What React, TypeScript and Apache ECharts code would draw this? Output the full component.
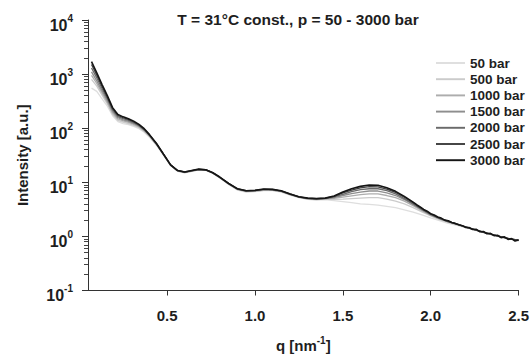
import React, { useEffect, useRef } from "react";
import * as echarts from "echarts";

// q values [nm^-1], shared by all curves
const Q = [
  0.07, 0.1, 0.13, 0.16, 0.19, 0.22, 0.25, 0.28, 0.31, 0.34, 0.37, 0.4, 0.44, 0.48,
  0.52, 0.56, 0.6, 0.64, 0.68, 0.72, 0.76, 0.8,
  0.85, 0.9, 0.95, 1.0, 1.05, 1.1, 1.15, 1.2, 1.25, 1.3,
  1.35, 1.4, 1.45, 1.5, 1.55, 1.6, 1.65, 1.7, 1.75, 1.8,
  1.85, 1.9, 1.95, 2.0, 2.05, 2.1, 2.15, 2.2, 2.25, 2.3,
  2.35, 2.4, 2.45, 2.5,
];

const I_50 = [
  550, 480, 350, 255, 170, 132, 122, 116, 108, 98, 84, 68, 48, 31.5,
  20.3, 16.0, 15.0, 15.9, 16.9, 16.6, 14.6, 12.0,
  9.1, 7.2, 6.6, 6.7, 7.0, 7.0, 6.6, 5.8, 5.2, 4.85,
  4.7, 4.8, 4.6, 4.4, 4.2, 4.0, 3.9, 3.8, 3.6, 3.4,
  3.1, 2.8, 2.5, 2.2, 1.95, 1.75, 1.6, 1.45, 1.31, 1.18,
  1.07, 0.97, 0.9, 0.85,
];
const I_500 = [
  800, 600, 410, 280, 180, 140, 129, 122, 113, 102, 87, 70, 49, 32,
  20.5, 16.1, 15.1, 16.0, 17.0, 16.7, 14.7, 12.1,
  9.2, 7.3, 6.7, 6.8, 7.1, 7.1, 6.7, 5.9, 5.25, 4.9,
  4.8, 4.9, 4.85, 4.9, 5.0, 5.1, 5.2, 5.2, 4.9, 4.5,
  4.0, 3.4, 2.85, 2.4, 2.05, 1.82, 1.64, 1.47, 1.32, 1.19,
  1.07, 0.98, 0.9, 0.85,
];
const I_1000 = [
  950, 670, 450, 300, 192, 148, 136, 128, 118, 106, 90, 72, 50, 32.3,
  20.6, 16.2, 15.2, 16.1, 17.1, 16.8, 14.8, 12.2,
  9.3, 7.4, 6.8, 6.9, 7.2, 7.2, 6.8, 5.9, 5.3, 4.95,
  4.85, 4.95, 5.05, 5.3, 5.6, 5.9, 6.1, 6.1, 5.7, 5.2,
  4.5, 3.7, 3.0, 2.45, 2.1, 1.85, 1.66, 1.48, 1.33, 1.19,
  1.08, 0.98, 0.9, 0.85,
];
const I_1500 = [
  1100, 750, 490, 325, 205, 156, 143, 134, 122, 109, 92, 73, 50.5, 32.5,
  20.7, 16.3, 15.3, 16.2, 17.2, 16.9, 14.9, 12.3,
  9.4, 7.5, 6.9, 7.0, 7.3, 7.2, 6.8, 6.0, 5.3, 5.0,
  4.9, 5.0, 5.2, 5.7, 6.2, 6.6, 6.9, 6.9, 6.4, 5.7,
  4.8, 3.9, 3.1, 2.5, 2.12, 1.86, 1.67, 1.49, 1.33, 1.19,
  1.08, 0.98, 0.9, 0.85,
];
const I_2000 = [
  1300, 850, 540, 350, 218, 164, 150, 140, 127, 112, 94, 74, 51, 32.8,
  20.8, 16.4, 15.4, 16.3, 17.3, 17.0, 15.0, 12.3,
  9.5, 7.5, 6.9, 7.0, 7.4, 7.3, 6.9, 6.0, 5.35, 5.05,
  4.95, 5.05, 5.35, 6.0, 6.7, 7.3, 7.6, 7.6, 7.0, 6.1,
  5.0, 4.0, 3.15, 2.55, 2.15, 1.88, 1.68, 1.49, 1.34, 1.2,
  1.08, 0.99, 0.9, 0.84,
];
const I_2500 = [
  1500, 950, 590, 375, 230, 172, 156, 145, 131, 115, 96, 75, 51.5, 33,
  21.0, 16.6, 15.5, 16.4, 17.4, 17.1, 15.1, 12.4,
  9.6, 7.6, 7.0, 7.1, 7.4, 7.4, 6.9, 6.1, 5.4, 5.1,
  5.0, 5.1, 5.5, 6.35, 7.2, 7.9, 8.3, 8.2, 7.5, 6.5,
  5.3, 4.2, 3.25, 2.6, 2.18, 1.9, 1.68, 1.5, 1.33, 1.2,
  1.09, 0.98, 0.9, 0.85,
];
const I_3000 = [
  1700, 1050, 640, 400, 240, 180, 162, 150, 135, 118, 98, 76, 52, 33,
  21.0, 16.5, 15.5, 16.5, 17.5, 17.0, 15.0, 12.5,
  9.5, 7.6, 7.0, 7.1, 7.5, 7.4, 7.0, 6.1, 5.4, 5.1,
  5.0, 5.1, 5.6, 6.6, 7.6, 8.4, 8.9, 8.8, 7.9, 6.8,
  5.5, 4.3, 3.3, 2.65, 2.2, 1.9, 1.7, 1.48, 1.35, 1.19,
  1.1, 0.97, 0.91, 0.84,
];

// denser, noisy high-q tail of the 3000 bar curve (drawn on top of the others)
const Q_TAIL = [
  1.9, 1.92, 1.94, 1.96, 1.98, 2.0, 2.02, 2.04, 2.06, 2.08, 2.1,
  2.12, 2.14, 2.16, 2.18, 2.2, 2.22, 2.24, 2.26, 2.28, 2.3,
  2.32, 2.34, 2.36, 2.38, 2.4, 2.42, 2.44, 2.46, 2.48, 2.5,
];
const I_3000_TAIL = [
  4.3, 3.85, 3.5, 3.15, 2.92, 2.62, 2.48, 2.28, 2.18, 2.0, 1.94,
  1.8, 1.74, 1.64, 1.58, 1.46, 1.45, 1.34, 1.35, 1.22, 1.23,
  1.12, 1.14, 1.03, 1.05, 0.95, 0.98, 0.88, 0.91, 0.82, 0.86,
];

const SERIES_NAMES = ["50 bar", "500 bar", "1000 bar", "1500 bar", "2000 bar", "2500 bar", "3000 bar"];
const SERIES_VALUES = [I_50, I_500, I_1000, I_1500, I_2000, I_2500, I_3000];
const SERIES_COLORS = ["#dedede", "#cbcbcb", "#adadad", "#8e8e8e", "#6a6a6a", "#404040", "#151515"];

const X_TICKS = [0.5, 1.0, 1.5, 2.0, 2.5];
const Y_MINOR = [
  0.2, 0.3, 0.4, 0.5, 0.6, 0.7, 0.8, 0.9,
  2, 3, 4, 5, 6, 7, 8, 9,
  20, 30, 40, 50, 60, 70, 80, 90,
  200, 300, 400, 500, 600, 700, 800, 900,
  2000, 3000, 4000, 5000, 6000, 7000, 8000, 9000,
];

const TITLE = "T = 31°C const., p = 50 - 3000 bar";
const FONT = "'Liberation Sans', Arial, Helvetica, sans-serif";
const INK = "#1e1e1e";

export default function App() {
  const ref = useRef<HTMLDivElement>(null);

  useEffect(() => {
    if (!ref.current) return;
    const chart = echarts.init(ref.current, null, { renderer: "svg" });

    const series = SERIES_VALUES.map((vals, i) => {
      let data = vals.map((v, j) => [Q[j], v]);
      if (i === 6) {
        data = data.filter((d) => d[0] < Q_TAIL[0]).concat(Q_TAIL.map((q, j) => [q, I_3000_TAIL[j]]));
      }
      return {
        type: "line",
        name: SERIES_NAMES[i],
        data,
        xAxisIndex: 0,
        yAxisIndex: 0,
        symbol: "none",
        smooth: false,
        z: 2 + i,
        lineStyle: { color: SERIES_COLORS[i], width: i === 6 ? 1.6 : 1.3 },
        itemStyle: { color: SERIES_COLORS[i] },
      };
    });

    chart.setOption({
      animation: false,
      backgroundColor: "#ffffff",
      textStyle: { fontFamily: FONT },
      grid: { left: 88, right: 12, top: 20, bottom: 57, containLabel: false },
      graphic: [
        {
          type: "text",
          x: 298,
          y: 19,
          style: {
            text: TITLE,
            fontFamily: FONT,
            fontSize: 15.5,
            fontWeight: "bold",
            fill: INK,
            textAlign: "center",
            textVerticalAlign: "middle",
          },
        },
      ],
      legend: {
        orient: "vertical",
        left: 436,
        top: 56,
        padding: 0,
        icon: "path://M0 0H15V1H0Z",
        itemWidth: 29,
        itemHeight: 14,
        itemGap: 2.2,
        textStyle: { fontFamily: FONT, fontSize: 13.5, fontWeight: "bold", color: INK },
        data: SERIES_NAMES,
      },
      xAxis: {
        type: "value",
        min: 0.05,
        max: 2.5,
        name: "{a|q [nm}{s|-1}{a|]}",
        nameLocation: "middle",
        nameGap: 45,
        nameTextStyle: {
          rich: {
            a: { fontFamily: FONT, fontSize: 15, fontWeight: "bold", color: INK, lineHeight: 20 },
            s: { fontFamily: FONT, fontSize: 10, fontWeight: "bold", color: INK, verticalAlign: "top" },
          },
        },
        axisLine: { show: true, onZero: false, lineStyle: { color: "#333", width: 1 } },
        axisTick: { show: true, length: 5, customValues: X_TICKS, lineStyle: { color: "#333" } },
        axisLabel: {
          customValues: X_TICKS,
          margin: 17,
          fontFamily: FONT,
          fontSize: 15,
          fontWeight: "bold",
          color: INK,
          formatter: (v: number) => v.toFixed(1),
        },
        splitLine: { show: false },
      },
      yAxis: [
        {
          type: "log",
          logBase: 10,
          min: 0.1,
          max: 10000,
          position: "left",
          name: "Intensity [a.u.]",
          nameLocation: "middle",
          nameGap: 58,
          nameRotate: 90,
          nameTextStyle: { fontFamily: FONT, fontSize: 15, fontWeight: "bold", color: INK },
          axisLine: { show: true, lineStyle: { color: "#333", width: 1 } },
          axisTick: { show: true, length: 6, lineStyle: { color: "#333" } },
          axisLabel: {
            margin: 15,
            formatter: (v: number) => `{b|10}{s|${Math.round(Math.log10(v))}}`,
            rich: {
              b: {
                fontFamily: FONT,
                fontSize: 16,
                fontWeight: "bold",
                color: INK,
                lineHeight: 22,
                padding: [10, 0, 0, 0],
              },
              s: {
                fontFamily: FONT,
                fontSize: 10,
                fontWeight: "bold",
                color: INK,
                verticalAlign: "top",
                padding: [4, 0, 0, 0],
              },
            },
          },
          splitLine: { show: false },
          minorTick: { show: false },
        },
        {
          type: "value",
          min: -1,
          max: 4,
          position: "left",
          axisLine: { show: false },
          axisLabel: { show: false },
          splitLine: { show: false },
          axisTick: {
            show: true,
            length: 4,
            customValues: Y_MINOR.map((v) => Math.log10(v)),
            lineStyle: { color: "#444" },
          },
        },
      ],
      series,
    });

    return () => chart.dispose();
  }, []);

  return (
    <div
      ref={ref}
      style={{ position: "fixed", left: 0, top: 0, width: 532, height: 358, background: "#fff" }}
    />
  );
}
